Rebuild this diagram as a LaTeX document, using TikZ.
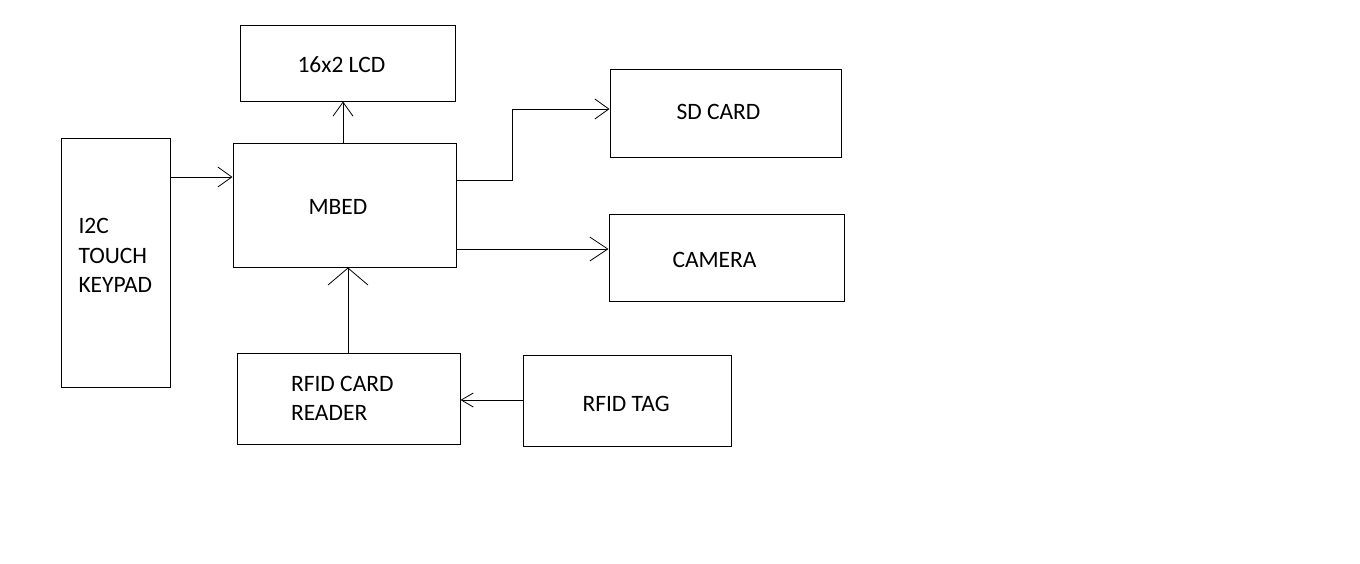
\documentclass[tikz,border=0pt]{standalone}
\usepackage{fontspec}
\setmainfont{Carlito}
\usepackage{tikz}
\usetikzlibrary{arrows.meta}

\begin{document}
\begin{tikzpicture}[x=1pt,y=-1pt,line width=1pt,
  blk/.style={draw=black,rectangle,inner sep=0pt},
  txt/.style={anchor=west,inner sep=0pt,align=left,font=\fontsize{23.5}{29.3}\selectfont},
  arw/.style={-{Straight Barb[length=14pt,width=20pt,line width=0.8pt]}}]
\useasboundingbox[fill=white] (0,0) rectangle (1360,563);
% blocks
\node[blk,minimum width=215,minimum height=76] (lcd) at (347.5,63) {};
\node[blk,minimum width=223,minimum height=124] (mbed) at (344.5,205) {};
\node[blk,minimum width=109,minimum height=249] (keypad) at (115.5,262.5) {};
\node[blk,minimum width=231,minimum height=88] (sdcard) at (725.5,113) {};
\node[blk,minimum width=235,minimum height=87] (camera) at (726.5,257.5) {};
\node[blk,minimum width=223,minimum height=91] (reader) at (348.5,398.5) {};
\node[blk,minimum width=208,minimum height=91] (tag) at (627,400.5) {};
% texts
\node[txt] (lcdtxt) at (297,64.5) {16x2 LCD};
\node[txt] (mbedtxt) at (308,207) {MBED};
\node[txt] (keypadtxt) at (78,255.5) {I2C\\TOUCH\\KEYPAD};
\node[txt] (sdtxt) at (676,112) {SD CARD};
\node[txt] (camtxt) at (672,259.5) {CAMERA};
\node[txt] (readertxt) at (290.5,398.5) {RFID CARD\\READER};
\node[txt] (tagtxt) at (582,404) {RFID TAG};
% links
\draw[arw] (keypad.east |- 0,177) -- (mbed.west |- 0,177);
\draw[arw] (mbed.north -| 343,0) -- (lcd.south -| 343,0);
\draw[arw] (mbed.east |- 0,180) -- (512,180) |- (sdcard.west |- 0,109);
\draw[-{Straight Barb[length=18pt,width=24pt,line width=0.8pt]}] (mbed.east |- 0,249) -- (camera.west |- 0,249);
\draw[-{Straight Barb[length=17pt,width=40pt,line width=0.8pt]}] (reader.north -| 348,0) -- (mbed.south -| 348,0);
\draw[-{Straight Barb[length=12pt,width=14pt,line width=0.8pt]}] (tag.west |- 0,400) -- (reader.east |- 0,400);
\end{tikzpicture}
\end{document}
